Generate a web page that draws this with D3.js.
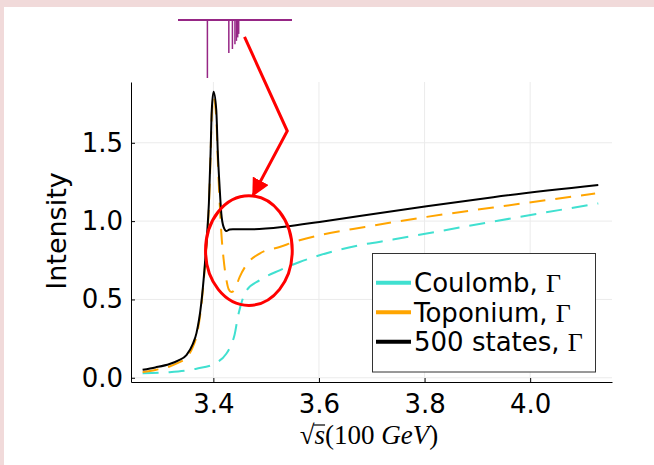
<!DOCTYPE html>
<meta charset='utf-8'>
<style>
html, body {
  margin: 0;
  padding: 0;
  background: #fff;
}
svg text {
  font-family: 'DejaVu Sans', sans-serif;
}
</style>
<body>
<div id='container'></div>
<script src='https://d3js.org/d3.v7.min.js'></script>
<script>

// ---- data ----
var coulombX = [3.266, 3.317, 3.368, 3.4023, 3.4245, 3.431, 3.437, 3.4402, 3.4465, 3.4529, 3.458, 3.4624, 3.4876, 3.5255, 3.5634, 3.601, 3.677, 3.740, 3.804, 3.93, 4.129];
var coulombY = [0.029, 0.036, 0.058, 0.09, 0.153, 0.19, 0.238, 0.275, 0.39, 0.475, 0.525, 0.555, 0.622, 0.686, 0.739, 0.782, 0.846, 0.882, 0.921, 0.997, 1.113];

var toponiumX = [3.266, 3.29, 3.317, 3.333, 3.349, 3.361, 3.368, 3.377, 3.383, 3.3877, 3.3915, 3.3947, 3.397, 3.4004, 3.4055, 3.4085, 3.4118, 3.415, 3.4193, 3.4245, 3.429, 3.434, 3.440, 3.4497, 3.4624, 3.4876, 3.5255, 3.5634, 3.601, 3.687, 3.804, 3.93, 4.123];
var toponiumY = [0.036, 0.05, 0.072, 0.095, 0.128, 0.195, 0.265, 0.455, 0.67, 0.88, 1.09, 1.41, 1.68, 1.79, 1.66, 1.38, 1.13, 0.93, 0.76, 0.63, 0.565, 0.547, 0.56, 0.643, 0.72, 0.793, 0.835, 0.878, 0.91, 0.963, 1.027, 1.087, 1.176];

var statesX = [3.266, 3.29, 3.317, 3.333, 3.349, 3.361, 3.368, 3.377, 3.383, 3.3877, 3.3915, 3.3947, 3.397, 3.4004, 3.4055, 3.4085, 3.4118, 3.415, 3.4193, 3.4245, 3.4307, 3.437, 3.475, 3.538, 3.601, 3.677, 3.804, 3.93, 4.129];
var statesY = [0.051, 0.066, 0.088, 0.11, 0.145, 0.215, 0.285, 0.473, 0.686, 0.899, 1.112, 1.432, 1.709, 1.826, 1.709, 1.432, 1.219, 1.049, 0.963, 0.937, 0.946, 0.948, 0.948, 0.965, 0.995, 1.033, 1.095, 1.153, 1.23];

var seriesNames = ['Coulomb, ', 'Toponium, ', '500 states, '];
var seriesColors = ['#40e0d0', '#ffa500', '#000000'];
var seriesDash = ['16,10', '16,10', null];

var xTicks = [3.4, 3.6, 3.8, 4.0];
var yTicks = [0.0, 0.5, 1.0, 1.5];

// stick spectrum shown above the plot (position, relative strength)
var levelX = [3.3877, 3.4283, 3.4351, 3.4399, 3.4427, 3.4451, 3.4470];
var levelH = [1.0, 0.57, 0.50, 0.42, 0.36, 0.30, 0.24];

// red annotation (data units)
var arrowPts = [[3.459, 2.176], [3.540, 1.575], [3.4753, 1.166]];
var ringCenter = [3.4673, 0.812];
var ringRadius = [0.0821, 0.35];

// ---- drawing ----
var W = 654, H = 465;
var svg = d3.select('#container').append('svg')
    .attr('width', W)
    .attr('height', H);

svg.append('rect').attr('width', W).attr('height', H).attr('fill', '#f1dada');
svg.append('rect').attr('x', 4).attr('y', 7).attr('width', W - 4).attr('height', H - 7).attr('fill', '#fff');

var x = d3.scaleLinear().domain([3.244, 4.155]).range([131, 612]);
var y = d3.scaleLinear().domain([-0.027, 1.888]).range([382, 82]);

// grid
var grid = svg.append('g');
grid.selectAll('.gx').data(xTicks).enter().append('line')
  .attr('x1', d => x(d)).attr('x2', d => x(d))
  .attr('y1', y.range()[0]).attr('y2', y.range()[1])
  .attr('stroke', '#ebebeb').attr('stroke-width', 1);
grid.selectAll('.gy').data(yTicks).enter().append('line')
  .attr('x1', x.range()[0]).attr('x2', x.range()[1])
  .attr('y1', d => y(d)).attr('y2', d => y(d))
  .attr('stroke', '#ebebeb').attr('stroke-width', 1);

// axes
var fmt = d3.format('.1f');
var gx = svg.append('g').attr('transform', 'translate(0,' + y.range()[0] + ')')
  .call(d3.axisBottom(x).tickValues(xTicks).tickFormat(fmt).tickSizeInner(-4).tickSizeOuter(0).tickPadding(13));
var gy = svg.append('g').attr('transform', 'translate(' + x.range()[0] + ',0)')
  .call(d3.axisLeft(y).tickValues(yTicks).tickFormat(fmt).tickSizeInner(-4).tickSizeOuter(0).tickPadding(8));
[gx, gy].forEach(function(g) {
  g.selectAll('text').style('font-size', '26px').attr('fill', '#000').style('font-family', "'DejaVu Sans', sans-serif");
  g.select('.domain').attr('stroke', '#000');
  g.selectAll('.tick line').attr('stroke', '#000');
});

// curves
var seriesData = [
  d3.zip(coulombX, coulombY),
  d3.zip(toponiumX, toponiumY),
  d3.zip(statesX, statesY)
];
var line = d3.line().x(d => x(d[0])).y(d => y(d[1])).curve(d3.curveMonotoneX);
seriesData.forEach(function(data, i) {
  svg.append('path')
    .attr('d', line(data))
    .attr('fill', 'none')
    .attr('stroke', seriesColors[i])
    .attr('stroke-width', 2)
    .attr('stroke-dasharray', seriesDash[i]);
});

// axis titles
svg.append('text')
  .attr('transform', 'translate(66,231) rotate(-90)')
  .attr('text-anchor', 'middle')
  .style('font-size', '27px')
  .text('Intensity');

var xl = svg.append('text')
  .attr('x', 369).attr('y', 444)
  .attr('text-anchor', 'middle')
  .style('font-family', "'Liberation Serif', serif")
  .style('font-size', '27px');
xl.append('tspan').text('\u221a');
xl.append('tspan').style('font-style', 'italic').text('s');
xl.append('tspan').text('(100 ');
xl.append('tspan').style('font-style', 'italic').text('GeV');
xl.append('tspan').text(')');
var sBox = xl.node().getExtentOfChar(1);
var rBox = xl.node().getExtentOfChar(0);
svg.append('line')
  .attr('x1', rBox.x + rBox.width - 1).attr('x2', sBox.x + sBox.width)
  .attr('y1', 444 - 19).attr('y2', 444 - 19)
  .attr('stroke', '#000').attr('stroke-width', 1.2);

// legend
var lg = svg.append('g');
lg.append('rect')
  .attr('x', 372.5).attr('y', 253.5).attr('width', 223).attr('height', 118.5)
  .attr('fill', '#fff').attr('stroke', '#333').attr('stroke-width', 1);
seriesNames.forEach(function(name, i) {
  var cy = 282.7 + i * 29.5;
  lg.append('line')
    .attr('x1', 376).attr('x2', 411).attr('y1', cy).attr('y2', cy)
    .attr('stroke', seriesColors[i]).attr('stroke-width', 4);
  var t = lg.append('text')
    .attr('x', 414).attr('y', cy + 9.5)
    .style('font-size', '26px');
  t.append('tspan').text(name);
  t.append('tspan').style('font-family', "'Liberation Serif', serif").text('\u0393');
});

// stick spectrum
var sx = d3.scaleLinear().domain([3.332, 3.548]).range([178, 292]);
var sy = d3.scaleLinear().domain([0, 1]).range([20, 78]);
svg.append('g').selectAll('line').data(levelX).enter().append('line')
  .attr('x1', d => sx(d)).attr('x2', d => sx(d))
  .attr('y1', sy(0)).attr('y2', (d, i) => sy(levelH[i]))
  .attr('stroke', '#962685').attr('stroke-width', 1.5);
svg.append('line')
  .attr('x1', sx.range()[0]).attr('x2', sx.range()[1])
  .attr('y1', sy(0)).attr('y2', sy(0))
  .attr('stroke', '#962685').attr('stroke-width', 2);

// red annotation
var defs = svg.append('defs');
defs.append('marker')
  .attr('id', 'head').attr('viewBox', '0 0 10 10')
  .attr('refX', 9).attr('refY', 5)
  .attr('markerWidth', 6).attr('markerHeight', 6)
  .attr('orient', 'auto')
  .append('path').attr('d', 'M0,0L10,5L0,10z').attr('fill', '#ff0000');
svg.append('path')
  .attr('d', d3.line().x(d => x(d[0])).y(d => y(d[1]))(arrowPts))
  .attr('fill', 'none').attr('stroke', '#ff0000').attr('stroke-width', 3)
  .attr('marker-end', 'url(#head)');
svg.append('ellipse')
  .attr('cx', x(ringCenter[0])).attr('cy', y(ringCenter[1]))
  .attr('rx', x(ringCenter[0] + ringRadius[0]) - x(ringCenter[0]))
  .attr('ry', y(ringCenter[1] - ringRadius[1]) - y(ringCenter[1]))
  .attr('fill', 'none').attr('stroke', '#ff0000').attr('stroke-width', 3);

</script>
